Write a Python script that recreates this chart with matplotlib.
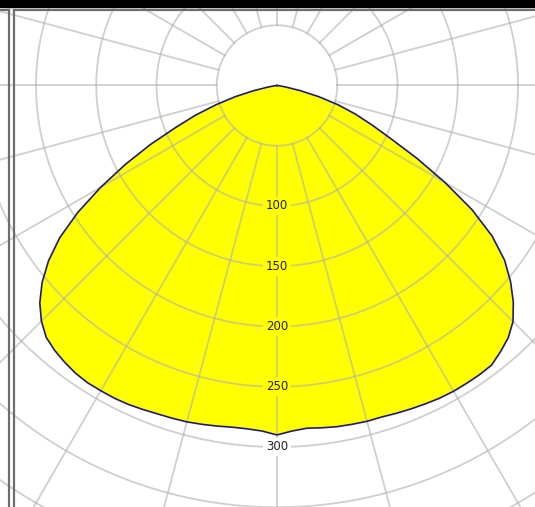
import numpy as np
import matplotlib
matplotlib.use("Agg")
import matplotlib.pyplot as plt

# gamma angles (deg from nadir) and intensities (cd/klm) for the two half-planes
gamma = [0, 2.5, 5, 7.5, 10, 12.5, 15, 17.5, 20, 22.5, 25, 27.5, 30, 32.5, 35, 37.5,
         40, 42.5, 45, 47.5, 50, 52.5, 55, 57.5, 60, 62.5, 65, 67.5, 70, 72.5, 75,
         77.5, 80, 82.5, 85, 87.5, 90]
I_right = [290, 287, 285.5, 286.5, 287.5, 288, 288.5, 288.5, 289.5, 290.5, 291.5, 292.5,
           293, 293, 293, 292.5, 288.5, 284, 277, 266, 253, 238, 218, 192, 161, 131,
           104, 85, 69, 53, 36, 20, 8, 3, 1, 0, 0]
I_left = [290, 287, 286, 286, 287, 288, 289, 289.5, 290, 291, 292, 292.5, 292.5, 292.5,
          291.5, 289.5, 287, 283.5, 276.5, 267, 254.5, 239, 220, 196, 169, 142, 116,
          91, 72, 53, 36, 20, 8, 3, 1, 0, 0]

ring_values = [50, 100, 150, 200, 250, 300, 350, 400, 450, 500]
label_values = [100, 150, 200, 250, 300]
spoke_step = 15

W, H = 535, 507
cx, cy, s = 277, 85.5, 1.205

fig = plt.figure(figsize=(W / 100, H / 100), dpi=100)
ax = fig.add_axes([0, 0, 1, 1])
ax.set_xlim(-cx / s, (W - cx) / s)
ax.set_ylim((cy - H) / s, cy / s)
ax.axis("off")

# curve (angles measured from downward direction)
g = np.radians(np.array(gamma, dtype=float))
xr = np.array(I_right) * np.sin(g)
yr = -np.array(I_right) * np.cos(g)
xl = -np.array(I_left) * np.sin(g)
yl = -np.array(I_left) * np.cos(g)
xs = np.concatenate([xr[::-1], xl[1:]])
ys = np.concatenate([yr[::-1], yl[1:]])
ax.fill(xs, ys, facecolor="#ffff00", edgecolor="none", zorder=1)

# grid
gc = dict(color="#b0b0b0", alpha=0.6, lw=1.3, zorder=2)
t = np.linspace(0, 2 * np.pi, 720)
for r in ring_values:
    ax.plot(r * np.cos(t), r * np.sin(t), **gc)
rmax = max(ring_values)
for a in range(0, 360, spoke_step):
    ar = np.radians(a)
    r0 = ring_values[0]
    ax.plot([r0 * np.cos(ar), rmax * np.cos(ar)], [r0 * np.sin(ar), rmax * np.sin(ar)], **gc)

ax.plot(xs, ys, color="#1c1c78", lw=1.2, zorder=3, solid_joinstyle="round")

for v in label_values:
    inside = v < 288
    ax.text(0, -v, str(v), ha="center", va="center", fontsize=8.5, color="#222222",
            zorder=4, bbox=dict(boxstyle="square,pad=0.25",
                                facecolor="#ffff00" if inside else "white", edgecolor="none"))

# page frame decorations
def px(x, y):
    return ((x - cx) / s, (cy - y) / s)

x0, y0 = px(0, 0)
x1, y1 = px(W, 7)
ax.add_patch(plt.Rectangle((x0, y1), x1 - x0, y0 - y1, color="black", zorder=5))
fc = dict(color="#6e6e6e", lw=1.6, zorder=5)
a, b = px(0, 10.5); c, d = px(8.5, 10.5)
ax.plot([a, c], [b, d], **fc)
a, b = px(8.5, 10.5); c, d = px(8.5, H)
ax.plot([a, c], [b, d], **fc)
a, b = px(14, 10.5); c, d = px(W, 10.5)
ax.plot([a, c], [b, d], **fc)
a, b = px(14, 10.5); c, d = px(14, H)
ax.plot([a, c], [b, d], **fc)

fig.savefig("out.png", dpi=100, facecolor="white")
